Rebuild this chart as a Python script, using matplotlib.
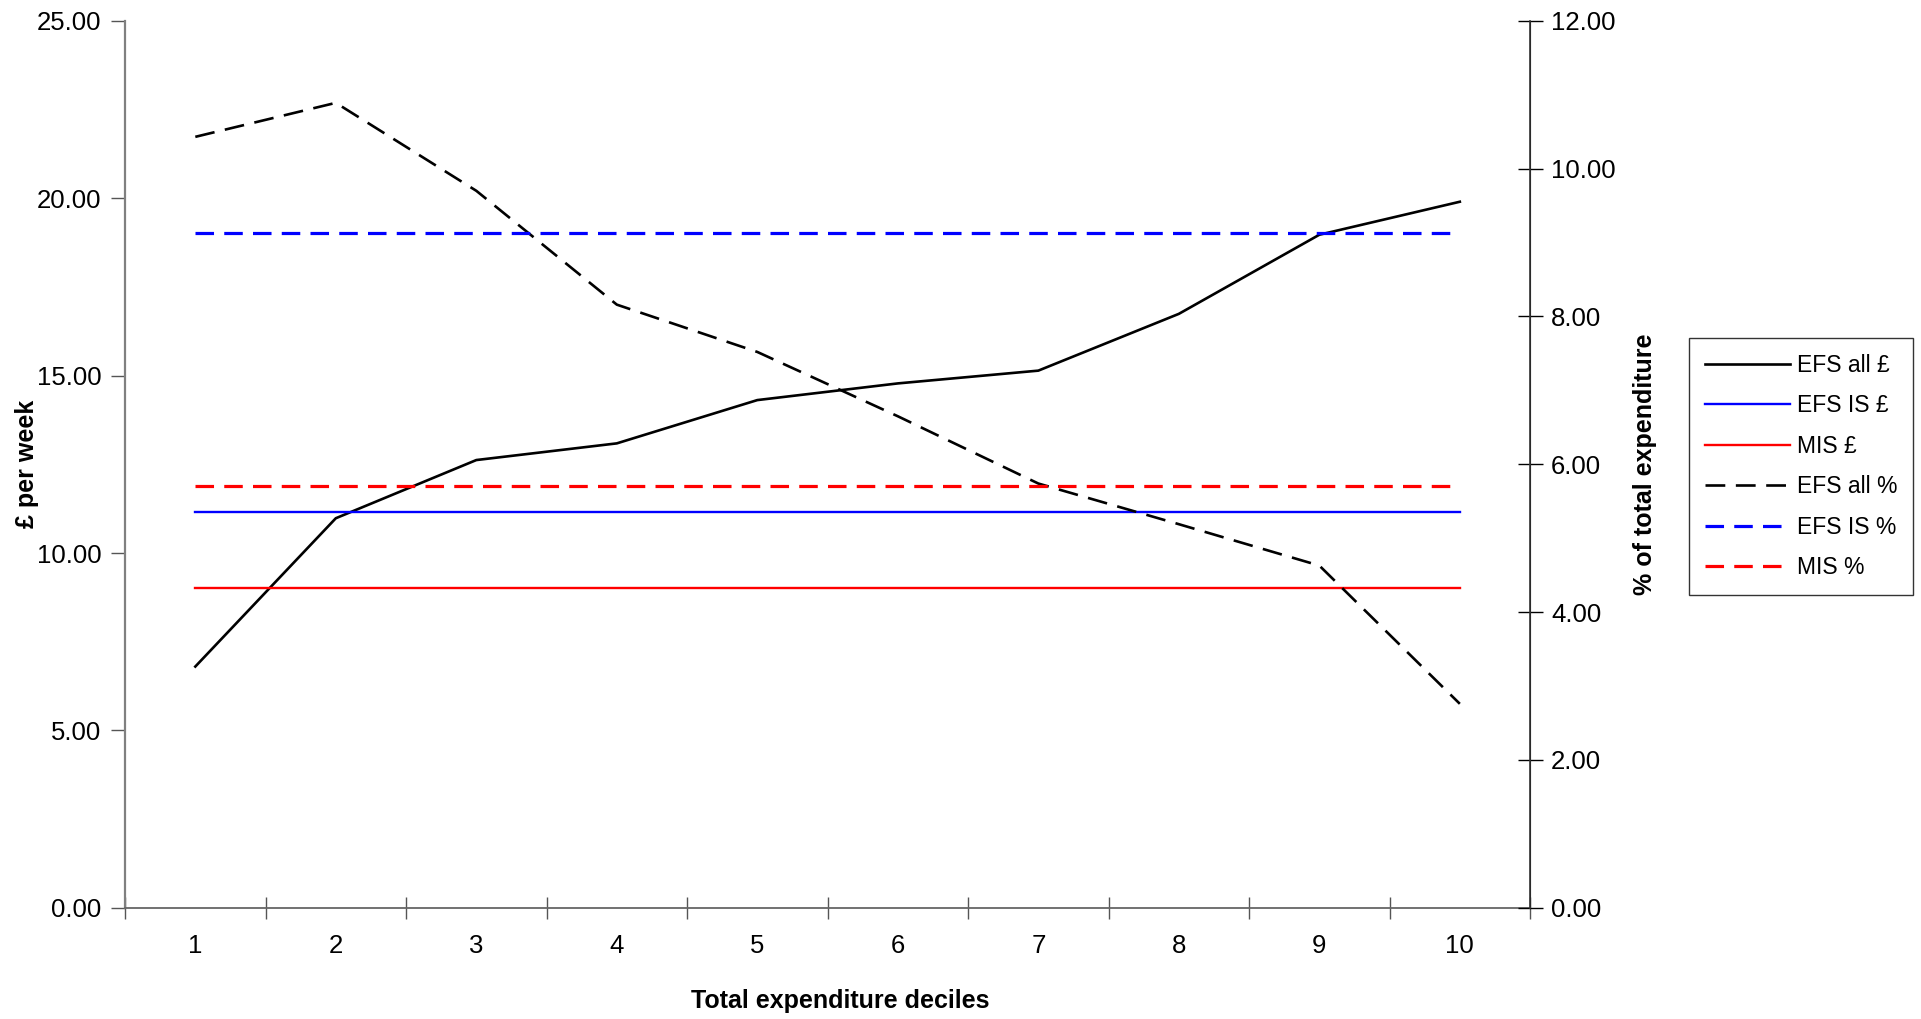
import matplotlib
matplotlib.use("Agg")
import matplotlib.pyplot as plt
from matplotlib.ticker import FormatStrFormatter, FixedLocator

plt.rcParams['font.family'] = ['Liberation Sans', 'DejaVu Sans']

# deciles
deciles = [1, 2, 3, 4, 5, 6, 7, 8, 9, 10]

# pounds per week (left axis)
efs_all_gbp = [6.80, 10.98, 12.62, 13.09, 14.31, 14.78, 15.14, 16.74, 18.97, 19.90]
efs_is_gbp = [11.15] * 10
mis_gbp = [9.00] * 10

# % of total expenditure (right axis)
efs_all_pct = [10.43, 10.89, 9.70, 8.16, 7.52, 6.65, 5.74, 5.19, 4.63, 2.76]
efs_is_pct = [9.13] * 10
mis_pct = [5.70] * 10

fig = plt.figure(figsize=(19.21, 10.19), dpi=100)
ax = fig.add_axes([0.0651, 0.1091, 0.7314, 0.8705])
ax2 = ax.twinx()

l1, = ax.plot(deciles, efs_all_gbp, color="black", lw=1.9, label="EFS all £")
l2, = ax.plot(deciles, efs_is_gbp, color="#0000ff", lw=1.7, label="EFS IS £")
l3, = ax.plot(deciles, mis_gbp, color="#ff0000", lw=1.7, label="MIS £")
l4, = ax2.plot(deciles, efs_all_pct, color="black", lw=1.9, dashes=(7.5, 4), label="EFS all %")
l5, = ax2.plot(deciles, efs_is_pct, color="#0000ff", lw=2.3, dashes=(5.8, 3.2), label="EFS IS %")
l6, = ax2.plot(deciles, mis_pct, color="#ff0000", lw=2.3, dashes=(5.8, 3.2), label="MIS %")

ax.set_xlim(0.5, 10.5)
ax.set_ylim(0, 25)
ax2.set_ylim(0, 12)

# category boundaries get the ticks, numbers sit in between
ax.xaxis.set_major_locator(FixedLocator([i + 0.5 for i in range(0, 11)]))
ax.xaxis.set_minor_locator(FixedLocator(deciles))
ax.set_xticklabels([])
ax.set_xticklabels([str(d) for d in deciles], minor=True, fontsize=18.5)
ax.tick_params(axis="x", which="major", direction="inout", length=16, width=1, color="#555555")
ax.tick_params(axis="x", which="minor", length=0, pad=19)

ax.set_yticks([0, 5, 10, 15, 20, 25])
ax.yaxis.set_major_formatter(FormatStrFormatter("%.2f"))
ax.tick_params(axis="y", direction="out", length=10, width=1, color="#555555", labelsize=18.5, pad=7)

ax2.set_yticks([0, 2, 4, 6, 8, 10, 12])
ax2.yaxis.set_major_formatter(FormatStrFormatter("%.2f"))
ax2.tick_params(axis="y", direction="inout", length=18, width=1, color="black", labelsize=18.5, pad=6)

for a in (ax, ax2):
    a.spines["top"].set_visible(False)
ax.spines["left"].set_color("#808080")
ax.spines["left"].set_linewidth(1.6)
ax.spines["bottom"].set_color("#666666")
ax.spines["bottom"].set_linewidth(1.3)
ax2.spines["left"].set_visible(False)
ax2.spines["bottom"].set_visible(False)
ax2.spines["right"].set_color("#333333")
ax2.spines["right"].set_linewidth(1.2)

ax.set_xlabel("Total expenditure deciles", fontsize=18, fontweight="bold")
ax.xaxis.set_label_coords(0.509, -0.092)
ax.set_ylabel("£ per week", fontsize=18, fontweight="bold")
ax.yaxis.set_label_coords(-0.061, 0.5)
ax2.set_ylabel("% of total expenditure", fontsize=18, fontweight="bold")
ax2.yaxis.set_label_coords(1.073, 0.5)

leg = fig.legend(handles=[l1, l2, l3, l4, l5, l6], loc="upper left",
                 bbox_to_anchor=(0.8792, 0.6683), fontsize=16.5, frameon=True,
                 fancybox=False, edgecolor="black", handlelength=3.7,
                 labelspacing=0.76, handletextpad=0.3, borderpad=0.7, borderaxespad=0)
leg.get_frame().set_linewidth(1.0)

fig.savefig("out.png", dpi=100)
